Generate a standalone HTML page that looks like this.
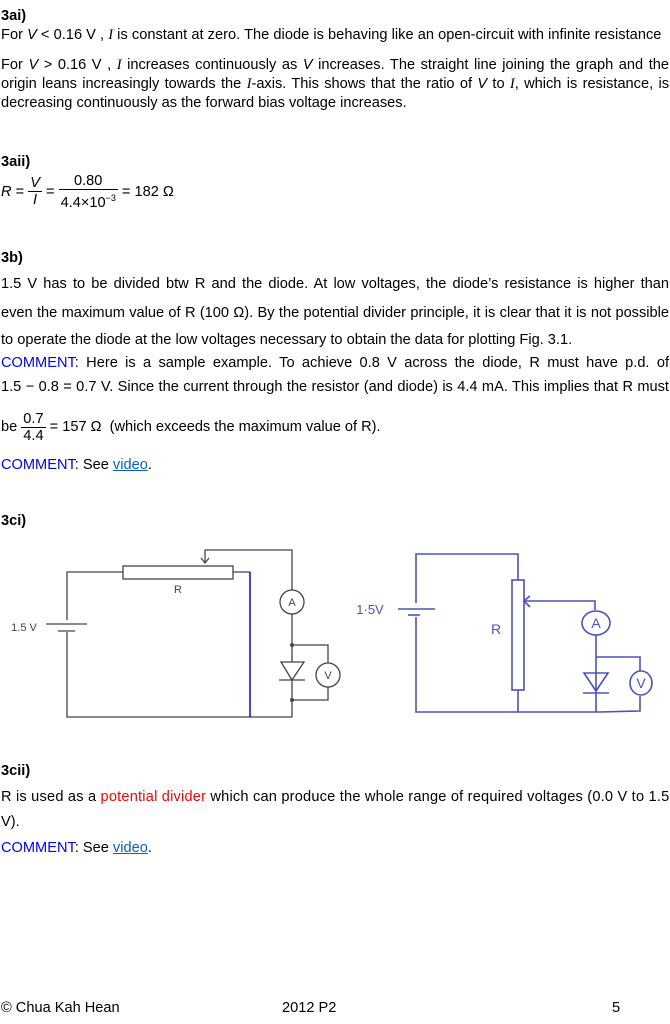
<!DOCTYPE html>
<html><head><meta charset="utf-8"><style>
body{margin:0;width:670px;height:1024px;background:#fff;position:relative;font-family:"Liberation Sans",sans-serif;font-size:14.6px;color:#000;overflow:hidden}
.l{position:absolute;left:1px;white-space:nowrap;line-height:18px}
.j{position:absolute;left:1px;width:668px;line-height:18px;text-align:justify;text-align-last:justify;white-space:nowrap}
b{font-weight:bold}
.c{color:#0000ff}
.r{color:#ff0000}
a{color:#0563c1;text-decoration:underline}
i.s{font-family:"Liberation Serif",serif}
.frac{display:inline-block;vertical-align:middle;text-align:center;line-height:16px}
.frac span{display:block;padding:0 2px}
.frac span:first-child{border-bottom:1px solid #000}
</style></head><body>
<div class="l" style="top:7px"><b>3ai)</b></div>
<div class="l" style="top:26px;letter-spacing:0.03px">For <i>V</i> &lt; 0.16 V , <i class="s">I</i> is constant at zero. The diode is behaving like an open-circuit with infinite resistance</div>
<div class="j" style="top:56px">For <i>V</i> &gt; 0.16 V , <i class="s">I</i> increases continuously as <i>V</i> increases. The straight line joining the graph and the</div>
<div class="j" style="top:75px">origin leans increasingly towards the <i class="s">I</i>-axis. This shows that the ratio of <i>V</i> to <i class="s">I</i>, which is resistance, is</div>
<div class="l" style="top:94px">decreasing continuously as the forward bias voltage increases.</div>

<div class="l" style="top:153px"><b>3aii)</b></div>
<div class="l" style="top:173px;line-height:34px"><i>R</i> = <span class="frac"><span><i>V</i></span><span><i>I</i></span></span> = <span class="frac"><span>0.80</span><span>4.4×10<sup style="font-size:9px">−3</sup></span></span> = 182 Ω</div>

<div class="l" style="top:249px"><b>3b)</b></div>
<div class="j" style="top:275px">1.5 V has to be divided btw R and the diode. At low voltages, the diode’s resistance is higher than</div>
<div class="j" style="top:304px">even the maximum value of R (100 Ω). By the potential divider principle, it is clear that it is not possible</div>
<div class="l" style="top:331px">to operate the diode at the low voltages necessary to obtain the data for plotting Fig. 3.1.</div>
<div class="j" style="top:354px"><span class="c">COMMENT</span>: Here is a sample example. To achieve 0.8 V across the diode, R must have p.d. of</div>
<div class="j" style="top:378px">1.5 − 0.8 = 0.7 V. Since the current through the resistor (and diode) is 4.4 mA. This implies that R must</div>
<div class="l" style="top:410px;line-height:34px">be <span class="frac"><span>0.7</span><span>4.4</span></span> = 157 Ω &nbsp;(which exceeds the maximum value of R).</div>
<div class="l" style="top:456px"><span class="c">COMMENT</span>: See <a>video</a>.</div>

<div class="l" style="top:512px"><b>3ci)</b></div>

<svg style="position:absolute;left:0;top:0" width="670" height="1024">
<g stroke="#444" stroke-width="1.3" fill="none">
<polyline points="123,572 67,572 67,620"/>
<polyline points="67,632 67,717 292,717 292,700"/>
<line x1="46" y1="624" x2="87" y2="624"/>
<line x1="58" y1="631" x2="75" y2="631"/>
<rect x="123" y="566" width="110" height="13" fill="#fff"/>
<line x1="233" y1="572" x2="250" y2="572"/>
<polyline points="205,563 205,550 292,550 292,590"/>
<polyline points="201,558 205,563 209,558"/>
<circle cx="292" cy="602" r="12" fill="#fff"/>
<line x1="292" y1="614" x2="292" y2="700"/>
<polygon points="281,662 304,662 292,680" fill="#fff"/>
<line x1="279" y1="680" x2="305" y2="680"/>
<polyline points="292,645 328,645 328,663"/>
<polyline points="292,700 328,700 328,687"/>
<circle cx="328" cy="675" r="12" fill="#fff"/>
</g>
<circle cx="292" cy="645" r="2" fill="#444"/><circle cx="292" cy="700" r="2" fill="#444"/>
<line x1="250" y1="572" x2="250" y2="717" stroke="#0000ff" stroke-width="1.5"/>
<g font-family="Liberation Sans" font-size="11" fill="#444" text-anchor="middle">
<text x="24" y="631">1.5 V</text><text x="178" y="593">R</text>
<text x="292" y="606">A</text><text x="328" y="679">V</text></g>

<g stroke="#4a52c0" stroke-width="1.6" fill="none">
<polyline points="416,603 416,554 518,554 518,580"/>
<polyline points="416,617 416,712 600,712 640,711 640,696"/>
<line x1="398" y1="609" x2="435" y2="609"/>
<line x1="408" y1="615" x2="420" y2="615"/>
<rect x="512" y="580" width="12" height="110"/>
<line x1="518" y1="690" x2="518" y2="712"/>
<polyline points="524,601 595,601 595,610"/>
<polyline points="530,596 524,601 530,607"/>
<ellipse cx="596" cy="623" rx="14" ry="12"/>
<line x1="596" y1="635" x2="596" y2="712"/>
<polygon points="584,673 608,673 596,691"/>
<line x1="583" y1="693" x2="609" y2="693"/>
<polyline points="596,657 640,657 640,671"/>
<ellipse cx="641" cy="683" rx="11" ry="12"/>
</g>
<g font-family="Liberation Sans" font-size="14" fill="#4a52c0" text-anchor="middle">
<text x="370" y="614" font-size="13">1·5V</text><text x="496" y="634">R</text>
<text x="596" y="628">A</text><text x="641" y="688">V</text></g>
</svg>

<div class="l" style="top:762px"><b>3cii)</b></div>
<div class="l" style="top:788px;letter-spacing:0.2px">R is used as a <span class="r">potential divider</span> which can produce the whole range of required voltages (0.0 V to 1.5</div>
<div class="l" style="top:813px">V).</div>
<div class="l" style="top:839px"><span class="c">COMMENT</span>: See <a>video</a>.</div>

<div class="l" style="top:999px">© Chua Kah Hean</div>
<div class="l" style="top:999px;left:282px">2012 P2</div>
<div class="l" style="top:999px;left:612px">5</div>
</body></html>
